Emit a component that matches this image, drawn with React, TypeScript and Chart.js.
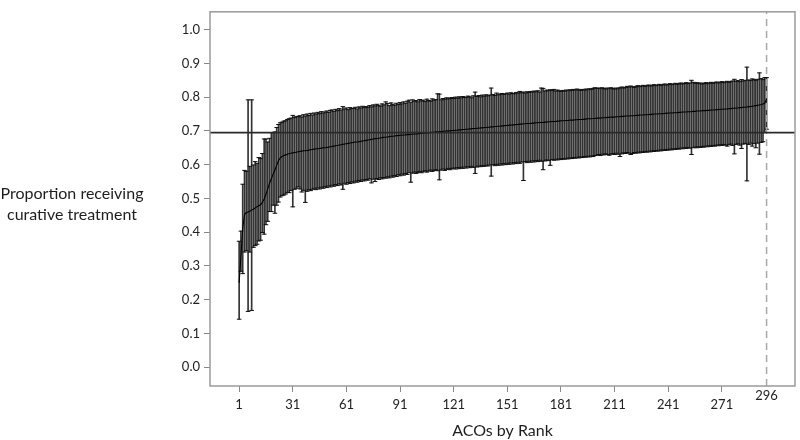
import React, { useEffect, useRef } from "react";
import { Chart, registerables } from "chart.js";

Chart.register(...registerables);

// ACO rank (category) 1..296
const ranks: number[] = Array.from({ length: 296 }, (_, i) => i + 1);

// Point estimate (proportion receiving curative treatment), by rank
const est: number[] = [
  0.250,0.330,0.410,0.452,0.458,0.460,0.462,0.466,0.468,0.472,
  0.475,0.478,0.481,0.488,0.498,0.512,0.528,0.545,0.558,0.572,
  0.584,0.598,0.612,0.620,0.624,0.627,0.629,0.631,0.633,0.634,
  0.635,0.636,0.637,0.638,0.639,0.640,0.641,0.641,0.642,0.643,
  0.644,0.645,0.646,0.647,0.647,0.648,0.649,0.650,0.650,0.651,
  0.652,0.653,0.654,0.655,0.656,0.657,0.658,0.659,0.660,0.661,
  0.662,0.663,0.664,0.665,0.666,0.667,0.667,0.668,0.669,0.670,
  0.671,0.672,0.673,0.674,0.675,0.676,0.677,0.677,0.678,0.679,
  0.680,0.681,0.681,0.682,0.683,0.684,0.684,0.685,0.686,0.686,
  0.687,0.687,0.688,0.688,0.689,0.689,0.690,0.690,0.691,0.691,
  0.692,0.692,0.693,0.693,0.694,0.694,0.695,0.695,0.696,0.696,
  0.697,0.697,0.698,0.698,0.699,0.699,0.700,0.700,0.700,0.701,
  0.701,0.702,0.702,0.703,0.703,0.704,0.704,0.705,0.705,0.706,
  0.706,0.707,0.707,0.708,0.708,0.709,0.709,0.710,0.710,0.711,
  0.711,0.712,0.712,0.713,0.713,0.714,0.714,0.715,0.715,0.716,
  0.716,0.717,0.717,0.718,0.718,0.719,0.719,0.720,0.720,0.721,
  0.721,0.722,0.722,0.722,0.723,0.723,0.724,0.724,0.725,0.725,
  0.725,0.726,0.726,0.727,0.727,0.728,0.728,0.728,0.729,0.729,
  0.730,0.730,0.730,0.731,0.731,0.732,0.732,0.732,0.733,0.733,
  0.734,0.734,0.734,0.735,0.735,0.736,0.736,0.736,0.737,0.737,
  0.738,0.738,0.738,0.739,0.739,0.739,0.740,0.740,0.741,0.741,
  0.741,0.742,0.742,0.742,0.743,0.743,0.744,0.744,0.744,0.745,
  0.745,0.745,0.746,0.746,0.747,0.747,0.747,0.748,0.748,0.748,
  0.749,0.749,0.750,0.750,0.750,0.751,0.751,0.751,0.752,0.752,
  0.753,0.753,0.753,0.754,0.754,0.754,0.755,0.755,0.756,0.756,
  0.756,0.757,0.757,0.757,0.758,0.758,0.759,0.759,0.759,0.760,
  0.760,0.760,0.761,0.761,0.762,0.762,0.762,0.763,0.763,0.764,
  0.764,0.764,0.765,0.765,0.766,0.766,0.767,0.767,0.768,0.768,
  0.769,0.769,0.770,0.770,0.771,0.772,0.772,0.773,0.774,0.775,
  0.776,0.777,0.778,0.780,0.782,0.794,
];

// Upper confidence limit, by rank
const hi: number[] = [
  0.373,0.403,0.542,0.583,0.580,0.792,0.595,0.792,0.599,0.609,
  0.604,0.621,0.618,0.633,0.676,0.676,0.667,0.678,0.695,0.695,
  0.697,0.710,0.719,0.724,0.726,0.729,0.730,0.734,0.736,0.738,
  0.746,0.740,0.742,0.743,0.745,0.741,0.748,0.744,0.750,0.746,
  0.752,0.747,0.753,0.750,0.755,0.751,0.757,0.753,0.756,0.759,
  0.755,0.761,0.762,0.758,0.764,0.760,0.766,0.762,0.772,0.765,
  0.768,0.763,0.769,0.766,0.767,0.770,0.765,0.771,0.768,0.773,
  0.769,0.772,0.770,0.775,0.771,0.777,0.774,0.779,0.776,0.773,
  0.780,0.777,0.786,0.781,0.775,0.783,0.779,0.776,0.782,0.778,
  0.784,0.780,0.786,0.782,0.788,0.791,0.785,0.792,0.788,0.790,
  0.786,0.793,0.789,0.791,0.787,0.794,0.790,0.788,0.795,0.791,
  0.793,0.810,0.809,0.792,0.796,0.794,0.798,0.795,0.797,0.799,
  0.796,0.800,0.797,0.801,0.798,0.802,0.799,0.800,0.803,0.801,
  0.798,0.804,0.815,0.802,0.805,0.801,0.806,0.803,0.807,0.804,
  0.806,0.827,0.808,0.805,0.812,0.807,0.809,0.811,0.808,0.810,
  0.812,0.809,0.813,0.811,0.810,0.814,0.812,0.817,0.813,0.815,
  0.812,0.816,0.814,0.817,0.815,0.818,0.816,0.819,0.815,0.827,
  0.826,0.818,0.821,0.819,0.822,0.820,0.823,0.818,0.821,0.819,
  0.817,0.820,0.818,0.821,0.819,0.822,0.820,0.823,0.821,0.824,
  0.822,0.820,0.823,0.821,0.824,0.822,0.825,0.823,0.826,0.828,
  0.826,0.827,0.825,0.828,0.826,0.824,0.827,0.825,0.828,0.826,
  0.824,0.827,0.825,0.828,0.830,0.827,0.829,0.832,0.830,0.833,
  0.831,0.829,0.832,0.834,0.831,0.833,0.835,0.832,0.834,0.836,
  0.833,0.835,0.837,0.834,0.836,0.838,0.835,0.837,0.839,0.836,
  0.838,0.840,0.837,0.839,0.841,0.838,0.840,0.842,0.839,0.841,
  0.843,0.840,0.842,0.850,0.844,0.841,0.843,0.840,0.842,0.839,
  0.841,0.843,0.840,0.842,0.844,0.841,0.843,0.845,0.842,0.844,
  0.846,0.843,0.845,0.847,0.844,0.846,0.848,0.853,0.847,0.849,
  0.846,0.852,0.848,0.850,0.889,0.851,0.849,0.854,0.852,0.850,
  0.853,0.872,0.855,0.852,0.858,0.858,
];

// Lower confidence limit, by rank
const lo: number[] = [
  0.142,0.284,0.277,0.341,0.345,0.165,0.341,0.168,0.355,0.360,
  0.364,0.374,0.376,0.399,0.394,0.422,0.432,0.461,0.461,0.480,
  0.456,0.480,0.489,0.504,0.508,0.510,0.513,0.518,0.517,0.523,
  0.475,0.527,0.530,0.534,0.528,0.519,0.524,0.488,0.521,0.526,
  0.523,0.527,0.530,0.526,0.531,0.528,0.533,0.530,0.535,0.532,
  0.537,0.534,0.539,0.536,0.541,0.538,0.543,0.540,0.527,0.545,
  0.542,0.547,0.544,0.549,0.546,0.551,0.548,0.553,0.550,0.555,
  0.552,0.556,0.554,0.558,0.546,0.557,0.550,0.559,0.556,0.561,
  0.558,0.562,0.560,0.564,0.561,0.566,0.563,0.568,0.565,0.570,
  0.567,0.572,0.569,0.574,0.571,0.576,0.548,0.575,0.578,0.574,
  0.577,0.580,0.576,0.579,0.582,0.578,0.581,0.584,0.580,0.583,
  0.585,0.582,0.555,0.584,0.587,0.583,0.586,0.589,0.585,0.588,
  0.590,0.587,0.591,0.588,0.592,0.589,0.593,0.590,0.594,0.591,
  0.595,0.592,0.574,0.593,0.596,0.594,0.597,0.595,0.598,0.596,
  0.599,0.566,0.600,0.597,0.601,0.598,0.602,0.599,0.603,0.600,
  0.604,0.601,0.605,0.602,0.606,0.603,0.607,0.604,0.608,0.553,
  0.609,0.606,0.610,0.607,0.611,0.608,0.612,0.609,0.613,0.610,
  0.585,0.611,0.614,0.612,0.598,0.615,0.613,0.616,0.614,0.617,
  0.615,0.618,0.616,0.619,0.617,0.620,0.618,0.621,0.619,0.622,
  0.620,0.623,0.621,0.624,0.622,0.625,0.623,0.626,0.624,0.627,
  0.628,0.630,0.627,0.631,0.629,0.632,0.630,0.628,0.631,0.633,
  0.630,0.634,0.631,0.624,0.632,0.635,0.633,0.636,0.634,0.630,
  0.633,0.636,0.634,0.637,0.635,0.638,0.636,0.639,0.637,0.640,
  0.638,0.641,0.639,0.642,0.640,0.643,0.641,0.644,0.642,0.645,
  0.643,0.646,0.644,0.647,0.645,0.648,0.646,0.649,0.647,0.650,
  0.648,0.651,0.649,0.630,0.650,0.652,0.650,0.653,0.651,0.654,
  0.652,0.655,0.653,0.656,0.654,0.657,0.655,0.658,0.656,0.659,
  0.657,0.660,0.658,0.655,0.659,0.661,0.657,0.632,0.660,0.662,
  0.658,0.648,0.661,0.663,0.552,0.660,0.664,0.655,0.662,0.650,
  0.664,0.631,0.666,0.668,0.695,0.705,
];

const xTicks: number[] = [1, 31, 61, 91, 121, 151, 181, 211, 241, 271, 296];
const yTicks: number[] = [0, 0.1, 0.2, 0.3, 0.4, 0.5, 0.6, 0.7, 0.8, 0.9, 1.0];
const overallRate = 0.695;
const lastRank = 296;
const xMin = -15.3;
const xMax = 311.9;
const yMin = -0.056;
const yMax = 1.053;

const xTitle = "ACOs by Rank";
const yTitleLines = ["Proportion receiving", "curative treatment"];

const FONT = "Lato, 'Open Sans', sans-serif";

export default function App() {
  const ref = useRef<HTMLCanvasElement | null>(null);

  useEffect(() => {
    document.body.style.margin = "0";
    const canvas = ref.current;
    if (!canvas) return;

    const framePlugin = {
      id: "frameAndTitle",
      afterDraw(chart: any) {
        const { ctx, chartArea } = chart;
        ctx.save();
        ctx.strokeStyle = "#9a9a9a";
        ctx.lineWidth = 1.5;
        ctx.strokeRect(
          chartArea.left,
          chartArea.top,
          chartArea.right - chartArea.left,
          chartArea.bottom - chartArea.top
        );
        // horizontal y-axis title, centred to the left of the axis
        const ys = chart.scales.y;
        const midY = ys.getPixelForValue(0.5);
        ctx.fillStyle = "#1e1e1e";
        ctx.font = `16px ${FONT}`;
        ctx.textAlign = "center";
        ctx.textBaseline = "middle";
        ctx.fillText(yTitleLines[0], 72, midY - 5);
        ctx.fillText(yTitleLines[1], 72, midY + 16);
        ctx.restore();
      },
    };

    const chart = new Chart(canvas, {
      type: "bar",
      data: {
        datasets: [
          {
            type: "line",
            label: "overall",
            data: [
              { x: xMin, y: overallRate },
              { x: xMax, y: overallRate },
            ],
            borderColor: "#2a2a2a",
            borderWidth: 1.8,
            pointRadius: 0,
            order: 0,
          } as any,
          {
            type: "line",
            label: "last",
            data: [
              { x: lastRank, y: yMin },
              { x: lastRank, y: yMax },
            ],
            borderColor: "#a8a8a8",
            borderWidth: 1.5,
            borderDash: [7, 5],
            pointRadius: 0,
            order: 1,
          } as any,
          {
            type: "line",
            label: "estimate",
            data: ranks.map((r, i) => ({ x: r, y: est[i] })),
            borderColor: "#000",
            borderWidth: 1.1,
            pointRadius: 0,
            order: 2,
          } as any,
          {
            type: "line",
            label: "upper",
            data: ranks.map((r, i) => ({ x: r, y: hi[i] })),
            showLine: false,
            pointStyle: "line",
            pointRadius: 2.3,
            borderColor: "#111",
            borderWidth: 1,
            order: 3,
          } as any,
          {
            type: "line",
            label: "lower",
            data: ranks.map((r, i) => ({ x: r, y: lo[i] })),
            showLine: false,
            pointStyle: "line",
            pointRadius: 2.3,
            borderColor: "#111",
            borderWidth: 1,
            order: 3,
          } as any,
          {
            type: "bar",
            label: "interval",
            data: ranks.map((r, i) => ({ x: r, y: [lo[i], hi[i]] })),
            backgroundColor: "#333333",
            borderWidth: 0,
            barThickness: 1,
            order: 4,
          } as any,
        ],
      },
      options: {
        animation: false,
        responsive: false,
        maintainAspectRatio: false,
        layout: { padding: { top: 1, right: 1, left: 0, bottom: 0 } },
        plugins: {
          legend: { display: false },
          tooltip: { enabled: false },
        },
        scales: {
          x: {
            type: "linear",
            min: xMin,
            max: xMax,
            offset: false,
            border: { display: false },
            grid: {
              offset: false,
              drawOnChartArea: false,
              drawTicks: true,
              tickLength: 6,
              tickColor: (c: any) =>
                c.tick && c.tick.value === lastRank ? "rgba(0,0,0,0)" : "#888",
            },
            afterBuildTicks: (s: any) => {
              s.ticks = xTicks.map((v) => ({ value: v }));
            },
            afterFit: (s: any) => {
              s.height = 54;
            },
            ticks: {
              autoSkip: false,
              maxRotation: 0,
              padding: -1,
              color: "#222",
              font: { family: FONT, size: 13, lineHeight: "9px" },
              callback: (v: any) =>
                Number(v) === lastRank ? String(v) : ["", String(v)],
            },
            title: {
              display: true,
              text: xTitle,
              color: "#1e1e1e",
              font: { family: FONT, size: 16 },
              padding: { top: 0, bottom: 0 },
            },
          },
          y: {
            type: "linear",
            min: yMin,
            max: yMax,
            border: { display: false },
            grid: {
              drawOnChartArea: false,
              drawTicks: true,
              tickLength: 6,
              tickColor: "#888",
            },
            afterBuildTicks: (s: any) => {
              s.ticks = yTicks.map((v) => ({ value: v }));
            },
            afterFit: (s: any) => {
              s.width = 210;
            },
            ticks: {
              padding: 4,
              color: "#222",
              font: { family: FONT, size: 13 },
              callback: (v: any) => Number(v).toFixed(1),
            },
          },
        },
      } as any,
      plugins: [framePlugin],
    });

    return () => chart.destroy();
  }, []);

  return (
    <div style={{ position: "fixed", left: 0, top: 0, width: 800, height: 440, background: "#fff" }}>
      <canvas ref={ref} width={800} height={440} style={{ display: "block" }} />
    </div>
  );
}
